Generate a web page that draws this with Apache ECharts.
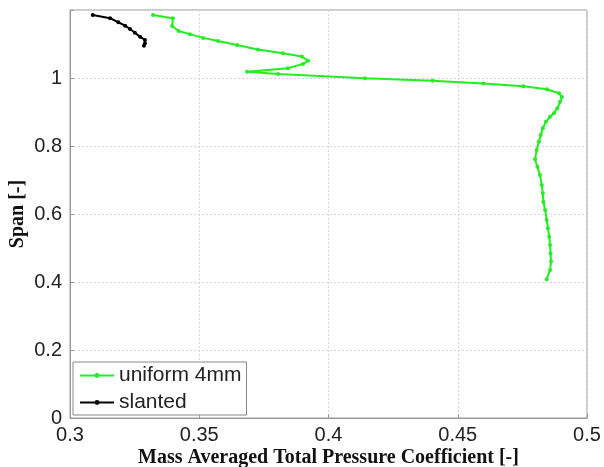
<!DOCTYPE html>
<html>
<head>
<meta charset="utf-8">
<script src="https://cdn.jsdelivr.net/npm/echarts@6/dist/echarts.min.js"></script>
<style>
  html, body { margin: 0; padding: 0; background: #fff; }
  #chart { width: 604px; height: 467px; }
</style>
</head>
<body>
<div id="chart"></div>
<script>
// Mass averaged total pressure coefficient against span, two tip configurations
const uniformCoeff = [
  0.3321, 0.3398, 0.3395, 0.3420, 0.3464, 0.3515, 0.3573, 0.3646, 0.3727, 0.3824,
  0.3897, 0.3921, 0.3901, 0.3843, 0.3685, 0.3805, 0.4141, 0.4403, 0.4599, 0.4754,
  0.4845, 0.4892, 0.4903, 0.4896, 0.4885, 0.4872, 0.4857, 0.4841, 0.4829, 0.4821,
  0.4814, 0.4805, 0.4799, 0.4808, 0.4818, 0.4825, 0.4829, 0.4831, 0.4838, 0.4844,
  0.4849, 0.4854, 0.4857, 0.4859, 0.4861, 0.4857, 0.4844
];
const uniformSpan = [
  1.185, 1.176, 1.153, 1.138, 1.129, 1.118, 1.109, 1.097, 1.084, 1.073,
  1.063, 1.051, 1.041, 1.029, 1.0185, 1.012, 0.999, 0.992, 0.984, 0.976,
  0.967, 0.955, 0.944, 0.930, 0.911, 0.896, 0.886, 0.871, 0.852, 0.832,
  0.813, 0.788, 0.761, 0.739, 0.715, 0.685, 0.661, 0.636, 0.612, 0.582,
  0.558, 0.533, 0.509, 0.484, 0.460, 0.435, 0.408
];
const slantedCoeff = [0.3088, 0.3155, 0.3187, 0.3213, 0.3232, 0.3251, 0.3271, 0.3290, 0.3290, 0.3286];
const slantedSpan  = [1.185, 1.176, 1.164, 1.154, 1.144, 1.133, 1.121, 1.112, 1.102, 1.095];

const xTicks = ['0.3', '0.35', '0.4', '0.45', '0.5'];
const yTicks = ['0', '0.2', '0.4', '0.6', '0.8', '1'];

const seriesNames = ['uniform 4mm', 'slanted'];
const xTitle = 'Mass Averaged Total Pressure Coefficient [-]';
const yTitle = 'Span [-]';

function pairs(xs, ys) { return xs.map((x, i) => [x, ys[i]]); }

function tickText(list, v) {
  const hit = list.find(t => Math.abs(parseFloat(t) - v) < 1e-6);
  return hit === undefined ? '' : hit;
}

const labelFont = { fontFamily: 'Liberation Sans', fontSize: 20, color: '#222' };
const titleFont = { fontFamily: 'Liberation Serif', fontSize: 20, fontWeight: 'bold', color: '#111' };
const green = '#22ee22';

const chart = echarts.init(document.getElementById('chart'), null, { renderer: 'canvas' });
chart.setOption({
  animation: false,
  backgroundColor: '#fff',
  grid: {
    left: 70, right: 17, top: 10, bottom: 49,
    containLabel: false, outerBoundsMode: 'none',
    show: true, borderColor: '#999', borderWidth: 1, backgroundColor: '#fff'
  },
  xAxis: {
    type: 'value', min: 0.3, max: 0.5, interval: 0.05,
    name: xTitle, nameLocation: 'middle', nameGap: 30, nameMoveOverlap: false,
    nameTextStyle: titleFont,
    axisLine: { show: true, lineStyle: { color: '#999' } },
    axisTick: { show: true, inside: true, length: 4, lineStyle: { color: '#999' } },
    axisLabel: Object.assign({ margin: 7, formatter: v => tickText(xTicks, v) }, labelFont),
    splitLine: { show: true, lineStyle: { color: '#d6d6d6', type: [2, 2], width: 1 } }
  },
  yAxis: {
    type: 'value', min: 0, max: 1.2, interval: 0.2,
    name: yTitle, nameLocation: 'middle', nameGap: 42, nameRotate: 90, nameMoveOverlap: false,
    nameTextStyle: titleFont,
    axisLine: { show: true, lineStyle: { color: '#999' } },
    axisTick: { show: true, inside: true, length: 4, lineStyle: { color: '#999' } },
    axisLabel: Object.assign({ margin: 8, formatter: v => tickText(yTicks, v) }, labelFont),
    splitLine: { show: true, lineStyle: { color: '#d6d6d6', type: [2, 2], width: 1 } }
  },
  legend: {
    left: 73, top: 362, orient: 'vertical',
    backgroundColor: '#fff', borderColor: '#888', borderWidth: 1,
    padding: [3, 5, 2, 6], itemGap: 6, itemWidth: 34, itemHeight: 6,
    textStyle: { fontFamily: 'Liberation Sans', fontSize: 21, color: '#222' },
    data: seriesNames
  },
  series: [
    {
      name: seriesNames[0], type: 'line', data: pairs(uniformCoeff, uniformSpan),
      color: green, symbol: 'circle', symbolSize: 4, showSymbol: true,
      lineStyle: { width: 2, color: green }, itemStyle: { color: green }
    },
    {
      name: seriesNames[1], type: 'line', data: pairs(slantedCoeff, slantedSpan),
      color: '#000', symbol: 'circle', symbolSize: 4, showSymbol: true,
      lineStyle: { width: 2, color: '#000' }, itemStyle: { color: '#000' }
    }
  ]
});
</script>
</body>
</html>
